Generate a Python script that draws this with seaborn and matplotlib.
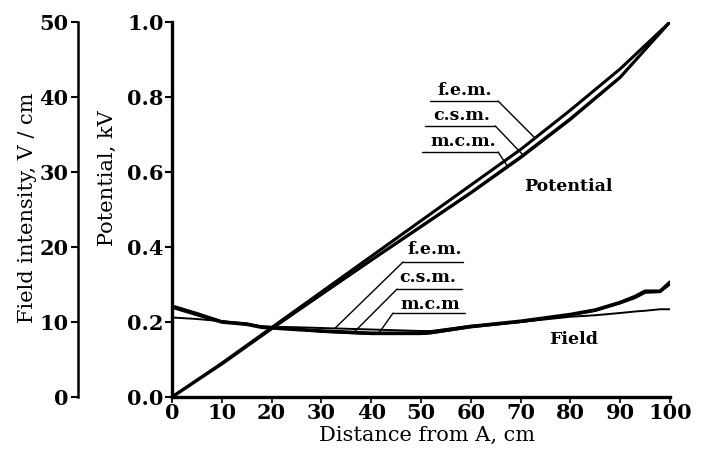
import matplotlib
matplotlib.use("Agg")
import matplotlib.pyplot as plt
import seaborn as sns
import numpy as np

# ---------------- data ----------------
pot_x = [0, 10, 20, 30, 40, 50, 60, 70, 80, 90, 100]
pot_fem = [0.0, 0.09, 0.185, 0.28, 0.375, 0.47, 0.565, 0.66, 0.765, 0.875, 1.0]
pot_csm = [0.0, 0.088, 0.182, 0.274, 0.365, 0.455, 0.545, 0.64, 0.742, 0.853, 1.0]
pot_mcm = [0.0, 0.088, 0.181, 0.272, 0.363, 0.452, 0.542, 0.636, 0.738, 0.85, 1.0]

field_x = [0, 5, 10, 15, 18, 25, 30, 40, 50, 52, 60, 70, 80, 85, 90, 93, 95, 98, 100]
field_fem = [10.6, 10.4, 10.1, 9.7, 9.4, 9.3, 9.2, 9.0, 8.8, 8.8, 9.5, 10.0, 10.7, 10.9, 11.2, 11.4, 11.5, 11.7, 11.7]
field_csm = [12.0, 11.0, 10.0, 9.7, 9.3, 9.0, 8.8, 8.5, 8.5, 8.6, 9.4, 10.1, 11.0, 11.6, 12.6, 13.4, 14.1, 14.1, 15.3]
field_mcm = [12.2, 11.2, 10.1, 9.8, 9.4, 9.1, 8.7, 8.4, 8.4, 8.5, 9.3, 10.0, 10.9, 11.5, 12.5, 13.2, 13.9, 14.0, 15.0]

x_ticks = [0, 10, 20, 30, 40, 50, 60, 70, 80, 90, 100]
pot_ticks = [0.0, 0.2, 0.4, 0.6, 0.8, 1.0]
field_ticks = [0, 10, 20, 30, 40, 50]

# ---------------- style ----------------
sns.set_style("ticks")
plt.rcParams.update({
    'font.family': ['DejaVu Serif'],
    'axes.linewidth': 2.4,
    'axes.edgecolor': 'black',
    'axes.labelcolor': 'black',
    'text.color': 'black',
    'xtick.color': 'black',
    'ytick.color': 'black',
})

fig = plt.figure(figsize=(7.01, 4.59), dpi=100)
ax = fig.add_axes([172 / 701, 1 - 397 / 459, 498 / 701, 375 / 459])
ax2 = ax.twinx()

sns.lineplot(x=pot_x, y=pot_fem, ax=ax, color='black', lw=2.2)
sns.lineplot(x=pot_x, y=pot_csm, ax=ax, color='black', lw=2.2)
sns.lineplot(x=pot_x, y=pot_mcm, ax=ax, color='black', lw=1.2)

sns.lineplot(x=field_x, y=field_fem, ax=ax2, color='black', lw=1.4)
sns.lineplot(x=field_x, y=field_csm, ax=ax2, color='black', lw=2.6)
sns.lineplot(x=field_x, y=field_mcm, ax=ax2, color='black', lw=1.6)

ax.set_xlim(0, 100)
ax.set_ylim(0, 1.0)
ax2.set_ylim(0, 50)

ax.set_xticks(x_ticks)
ax.set_yticks(pot_ticks)
ax.set_yticklabels([f'{t:.1f}' for t in pot_ticks])
ax2.set_yticks(field_ticks)

# spines
for s in ['top', 'right']:
    ax.spines[s].set_visible(False)
for s in ['top', 'right', 'bottom']:
    ax2.spines[s].set_visible(False)
ax2.spines['left'].set_visible(True)
ax2.spines['left'].set_position(('axes', -94 / 498))
ax2.spines['left'].set_linewidth(1.8)
ax2.yaxis.set_ticks_position('left')
ax2.yaxis.set_label_position('left')

ax.tick_params(axis='y', direction='out', length=5, width=1.5, pad=1, labelsize=15)
ax.tick_params(axis='x', direction='out', length=4, width=1.2, pad=0, labelsize=15)
ax2.tick_params(axis='y', direction='out', length=5, width=1.5, pad=2, labelsize=15)
for lab in ax.get_xticklabels() + ax.get_yticklabels() + ax2.get_yticklabels():
    lab.set_fontweight('bold')

ax.set_xlabel('Distance from A, cm', fontsize=15)
ax.xaxis.set_label_coords(0.512, -0.078)
ax.set_ylabel('Potential, kV', fontsize=15)
ax.yaxis.set_label_coords(-0.11, 0.584)
ax2.set_ylabel('Field intensity, V / cm', fontsize=15)
ax2.yaxis.set_label_coords(-0.271, 0.504)


# ---------------- labels with leaders ----------------
def leader(axis, text, tx, ty, ux0, ux1, uy, cx, cy, end='right'):
    axis.text(tx, ty, text, fontsize=12.5, fontweight='bold', ha='center', va='center')
    axis.plot([ux0, ux1], [uy, uy], color='black', lw=1)
    sx = ux1 if end == 'right' else ux0
    axis.plot([sx, cx], [uy, cy], color='black', lw=1)


# potential labels (leader from right end of underline down to curve)
leader(ax, 'f.e.m.', 58.8, 0.817, 51.8, 65.5, 0.789, 72.9, np.interp(72.9, pot_x, pot_fem))
leader(ax, 'c.s.m.', 58.2, 0.752, 50.8, 64.9, 0.723, 70.5, np.interp(70.5, pot_x, pot_csm))
leader(ax, 'm.c.m.', 58.4, 0.682, 50.2, 65.5, 0.653, 67.5, np.interp(67.5, pot_x, pot_mcm))

# field labels (leader from left end of underline down to curve)
leader(ax2, 'f.e.m.', 52.8, 19.7, 46.4, 58.4, 18.0, 32.7, np.interp(32.7, field_x, field_fem), end='left')
leader(ax2, 'c.s.m.', 51.4, 15.9, 45.2, 58.2, 14.4, 36.5, np.interp(36.5, field_x, field_csm), end='left')
leader(ax2, 'm.c.m', 51.8, 12.3, 44.4, 58.8, 11.2, 41.4, np.interp(41.4, field_x, field_mcm), end='left')

ax.text(79.5, 0.56, 'Potential', fontsize=12.5, fontweight='bold', ha='center', va='center')
ax2.text(80.7, 7.6, 'Field', fontsize=12.5, fontweight='bold', ha='center', va='center')

fig.savefig('out.png', dpi=100)
